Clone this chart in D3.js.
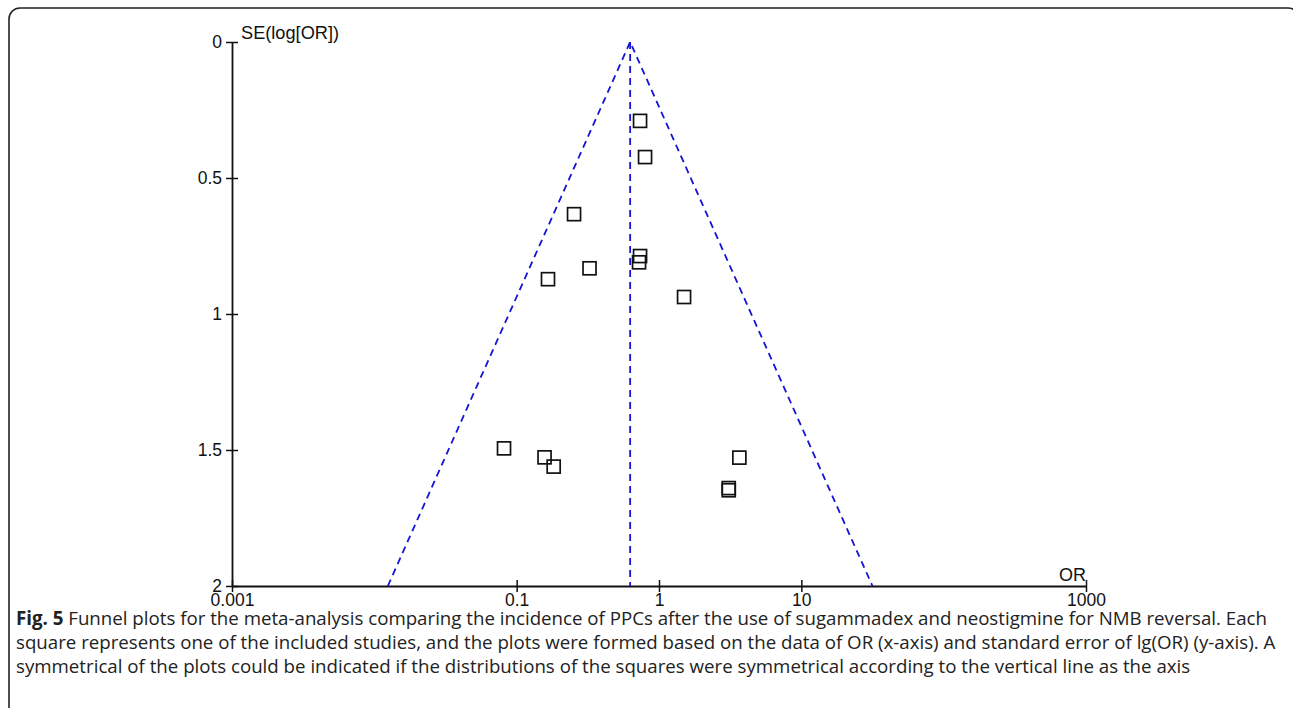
<!DOCTYPE html>
<html>
<head>
<meta charset="utf-8">
<script src="https://cdn.jsdelivr.net/npm/d3@7"></script>
<style>
	body { margin: 0; background: #fff; }
	svg { display: block; }
</style>
</head>
<body>
<svg id="chart" width="1293" height="708"></svg>
<script>
// study estimates
var orValues = [0.736, 0.798, 0.253, 0.736, 0.724, 0.325, 0.166, 1.50, 0.0815, 0.157, 0.182, 3.67, 3.09, 3.09];
var seValues = [0.29, 0.423, 0.633, 0.787, 0.81, 0.832, 0.872, 0.9375, 1.494, 1.527, 1.561, 1.528, 1.640, 1.648];
var pooledOR = 0.627;
var xTicks = [0.001, 0.1, 1, 10, 1000];
var yTicks = [0, 0.5, 1, 1.5, 2];
var captionLines = [
	["Fig. 5", " Funnel plots for the meta-analysis comparing the incidence of PPCs after the use of sugammadex and neostigmine for NMB reversal. Each"],
	["", "square represents one of the included studies, and the plots were formed based on the data of OR (x-axis) and standard error of lg(OR) (y-axis). A"],
	["", "symmetrical of the plots could be indicated if the distributions of the squares were symmetrical according to the vertical line as the axis"]
];

var svg = d3.select("#chart");
var axisFont = "'Liberation Sans', Arial, sans-serif";

// frame around the figure
svg.append("rect")
	.attr("x", 9).attr("y", 8)
	.attr("width", 1290).attr("height", 710)
	.attr("rx", 11).attr("ry", 11)
	.attr("fill", "none")
	.attr("stroke", "#222")
	.attr("stroke-width", 1.6);

var x = d3.scaleLog().domain([0.001, 1000]).range([232, 1086]);
var y = d3.scaleLinear().domain([0, 2]).range([42, 586]);

// axes
var xAxis = svg.append("g").attr("transform", "translate(0,586)")
	.call(d3.axisBottom(x).tickValues(xTicks).tickFormat(d3.format("~g")).tickSizeInner(6).tickSizeOuter(0));
var yAxis = svg.append("g").attr("transform", "translate(232,0)")
	.call(d3.axisLeft(y).tickValues(yTicks).tickFormat(d3.format("~g")).tickSizeInner(6).tickSizeOuter(0));

[xAxis, yAxis].forEach(function(g) {
	g.attr("font-family", axisFont).attr("font-size", 17.5);
	g.select(".domain").attr("stroke", "#111").attr("stroke-width", 1.8);
	g.selectAll(".tick line").attr("stroke", "#111").attr("stroke-width", 1.5);
	g.selectAll(".tick text").attr("fill", "#111");
});
// ticks cross the axis lines
xAxis.selectAll(".tick line").attr("y1", -6).attr("y2", 6);
xAxis.selectAll(".tick text").attr("y", 8);
yAxis.selectAll(".tick line").attr("x1", -6).attr("x2", 6);
yAxis.selectAll(".tick text").attr("x", -10);

svg.append("text")
	.attr("x", 241).attr("y", 39)
	.attr("font-family", axisFont).attr("font-size", 18.2).attr("fill", "#111")
	.text("SE(log[OR])");
svg.append("text")
	.attr("x", 1059).attr("y", 581)
	.attr("font-family", axisFont).attr("font-size", 18).attr("fill", "#111")
	.text("OR");

// funnel (95% limits on log scale)
var seMax = 2;
var funnel = [
	[[pooledOR * Math.exp(-1.96 * seMax), seMax], [pooledOR, 0], [pooledOR * Math.exp(1.96 * seMax), seMax]],
	[[pooledOR, 0], [pooledOR, seMax]]
];
var line = d3.line().x(function(d) { return x(d[0]); }).y(function(d) { return y(d[1]); });
svg.selectAll(".funnel")
	.data(funnel)
	.enter().append("path")
	.attr("class", "funnel")
	.attr("d", line)
	.attr("fill", "none")
	.attr("stroke", "#1414d2")
	.attr("stroke-width", 1.8)
	.attr("stroke-dasharray", "7,5");

// study squares
var sq = 13;
svg.selectAll(".study")
	.data(orValues)
	.enter().append("rect")
	.attr("class", "study")
	.attr("x", function(d) { return x(d) - sq / 2; })
	.attr("y", function(d, i) { return y(seValues[i]) - sq / 2; })
	.attr("width", sq).attr("height", sq)
	.attr("fill", "none")
	.attr("stroke", "#111")
	.attr("stroke-width", 1.7);

// caption
var cap = svg.append("g");
captionLines.forEach(function(l, i) {
	var t = cap.append("text")
		.attr("x", 16).attr("y", 625 + i * 24)
		.attr("font-family", "'Open Sans', sans-serif")
		.attr("font-size", 18.7)
		.attr("fill", "#222");
	if (l[0]) t.append("tspan").attr("font-weight", "bold").text(l[0]);
	t.append("tspan").text(l[1]);
});
</script>
</body>
</html>
